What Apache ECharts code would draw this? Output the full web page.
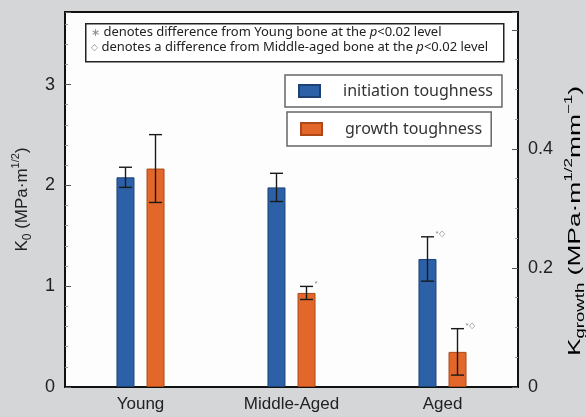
<!DOCTYPE html>
<html>
<head>
<meta charset="utf-8">
<script src="https://cdn.jsdelivr.net/npm/echarts@6/dist/echarts.min.js"></script>
<style>
  html, body { margin: 0; padding: 0; background: #d5d6d8; }
  #chart { width: 586px; height: 417px; }
</style>
</head>
<body>
<div id="chart"></div>
<script>
// Fracture toughness by age group: initiation (left axis) and growth (right axis)
const categories = ['Young', 'Middle-Aged', 'Aged'];
const initiation = [2.08, 1.98, 1.27];
const initiationErr = [0.10, 0.14, 0.22];
const initiationMarks = ['', '', '*◇'];
const growth = [0.367, 0.158, 0.059];
const growthErr = [0.057, 0.011, 0.039];
const growthMarks = ['', '*', '*◇'];
const leftTicks = [0, 1, 2, 3];
const rightTicks = [0, 0.2, 0.4];

const FONT = '"Liberation Sans", Arial, sans-serif';
const NOTE_FONT = '"Noto Sans", sans-serif';
const BAR_W = 18;
const BAR_GAP = 12;
const OFFSET = (BAR_W + BAR_GAP) / 2;
const BLUE = '#2c61a8', BLUE_EDGE = '#1c4275';
const ORANGE = '#e3672b', ORANGE_EDGE = '#ab4a18';

const titleRich = {
  b: { fontSize: 17, fontFamily: FONT, color: '#222', lineHeight: 24 },
  sub: { fontSize: 12, fontFamily: FONT, color: '#222', verticalAlign: 'bottom' },
  sup: { fontSize: 11, fontFamily: FONT, color: '#222', verticalAlign: 'top' }
};

function errorBars(offset, marks) {
  return function (params, api) {
    const i = api.value(0);
    const v = api.value(1);
    const e = api.value(2);
    const top = api.coord([i, v + e]);
    const bot = api.coord([i, v - e]);
    const x = top[0] + offset;
    const cap = 6.5;
    const style = { stroke: '#1a1a1a', lineWidth: 1.4 };
    const children = [
      { type: 'line', shape: { x1: x, y1: top[1], x2: x, y2: bot[1] }, style },
      { type: 'line', shape: { x1: x - cap, y1: top[1], x2: x + cap, y2: top[1] }, style },
      { type: 'line', shape: { x1: x - cap, y1: bot[1], x2: x + cap, y2: bot[1] }, style }
    ];
    const m = marks[params.dataIndex];
    if (m) {
      children.push({
        type: 'text',
        style: { text: m, x: x + 8, y: top[1] - 3, fill: '#8a8a8a', fontSize: 8, fontFamily: FONT, verticalAlign: 'middle' }
      });
    }
    return { type: 'group', children };
  };
}

const chart = echarts.init(document.getElementById('chart'));
chart.setOption({
  backgroundColor: '#d5d6d8',
  animation: false,
  grid: {
    left: 65, right: 68, top: 12, bottom: 30,
    outerBoundsMode: 'none',
    containLabel: false,
    show: true, borderColor: '#111', borderWidth: 2, backgroundColor: '#fdfdfd'
  },
  legend: [
    {
      data: ['initiation toughness'], left: 285, top: 75, icon: 'rect',
      itemWidth: 21, itemHeight: 12, padding: [8, 9, 8, 13],
      borderColor: '#666', borderWidth: 1.5, backgroundColor: '#fff', selectedMode: false,
      textStyle: { fontSize: 16, color: '#333', fontFamily: NOTE_FONT, padding: [0, 0, 0, 18] }
    },
    {
      data: ['growth toughness'], left: 287, top: 112, icon: 'rect',
      itemWidth: 21, itemHeight: 12, padding: [9, 9, 9, 13],
      borderColor: '#666', borderWidth: 1.5, backgroundColor: '#fff', selectedMode: false,
      textStyle: { fontSize: 16, color: '#333', fontFamily: NOTE_FONT, padding: [0, 0, 0, 18] }
    }
  ],
  xAxis: {
    type: 'category',
    data: categories,
    axisLine: { show: true, lineStyle: { color: '#111', width: 2 } },
    axisTick: { show: false },
    axisLabel: { fontSize: 17, color: '#222', fontFamily: FONT, margin: 9 }
  },
  yAxis: [
    {
      type: 'value', min: 0, max: 3.72, interval: 1, position: 'left',
      axisLine: { show: true, lineStyle: { color: '#111', width: 2 } },
      axisTick: { show: true, inside: true, length: 6, lineStyle: { color: '#555' } },
      minorTick: { show: true, splitNumber: 5, length: 3, lineStyle: { color: '#999' } },
      splitLine: { show: false },
      axisLabel: {
        showMaxLabel: false, fontSize: 18, color: '#222', fontFamily: FONT, margin: 10,
        formatter: v => (leftTicks.includes(v) ? String(v) : '')
      },
      name: '{b|K}{sub|0}{b| (MPa·m}{sup|1/2}{b|)}',
      nameLocation: 'middle', nameGap: 29, nameRotate: 90,
      nameTextStyle: { rich: titleRich }
    },
    {
      type: 'value', min: 0, max: 0.63, interval: 0.2, position: 'right',
      axisLine: { show: true, lineStyle: { color: '#111', width: 2 } },
      axisTick: { show: true, inside: true, length: 6, lineStyle: { color: '#555' } },
      minorTick: { show: true, splitNumber: 4, length: 3, lineStyle: { color: '#999' } },
      splitLine: { show: false },
      axisLabel: {
        showMaxLabel: false, fontSize: 18, color: '#222', fontFamily: FONT, margin: 10,
        formatter: v => {
          const hit = rightTicks.find(t => Math.abs(t - v) < 1e-9);
          return hit === undefined ? '' : String(hit);
        }
      }
    }
  ],
  graphic: [
    {
      type: 'rect', left: 85, top: 23, z: 10,
      shape: { width: 418, height: 38 },
      style: { fill: '#fff', stroke: '#222', lineWidth: 1.5 }
    },
    {
      type: 'text', left: 91, top: 26, z: 11,
      style: {
        text: '{s|∗} denotes difference from Young bone at the {i|p}<0.02 level',
        fontSize: 13, fontFamily: NOTE_FONT, fill: '#222',
        rich: { s: { fontSize: 11, fill: '#888' }, i: { fontStyle: 'italic', fontSize: 13, fontFamily: NOTE_FONT } }
      }
    },
    {
      type: 'text', left: 91, top: 41, z: 11,
      style: {
        text: '{s|◇} denotes a difference from Middle-aged bone at the {i|p}<0.02 level',
        fontSize: 13, fontFamily: NOTE_FONT, fill: '#222',
        rich: { s: { fontSize: 9, fill: '#888' }, i: { fontStyle: 'italic', fontSize: 13, fontFamily: NOTE_FONT } }
      }
    },
    {
      type: 'text', x: 575, y: 221, rotation: Math.PI / 2, scaleX: 1.55, z: 11,
      style: {
        text: '{b|K}{sub|growth}{b| (MPa·m}{sup|1/2}{b|mm}{sup|−1}{b|)}',
        align: 'center', verticalAlign: 'middle',
        rich: titleRich
      }
    }
  ],
  series: [
    {
      name: 'initiation toughness', type: 'bar', yAxisIndex: 0,
      barWidth: BAR_W, barGap: (BAR_GAP / BAR_W * 100).toFixed(0) + '%',
      itemStyle: { color: BLUE, borderColor: BLUE_EDGE, borderWidth: 1 },
      data: initiation
    },
    {
      name: 'growth toughness', type: 'bar', yAxisIndex: 1,
      barWidth: BAR_W,
      itemStyle: { color: ORANGE, borderColor: ORANGE_EDGE, borderWidth: 1 },
      data: growth
    },
    {
      type: 'custom', yAxisIndex: 0, z: 5,
      renderItem: errorBars(-OFFSET, initiationMarks),
      encode: { x: 0, y: 1 },
      data: initiation.map((v, i) => [i, v, initiationErr[i]])
    },
    {
      type: 'custom', yAxisIndex: 1, z: 5,
      renderItem: errorBars(OFFSET, growthMarks),
      encode: { x: 0, y: 1 },
      data: growth.map((v, i) => [i, v, growthErr[i]])
    }
  ]
});
</script>
</body>
</html>
